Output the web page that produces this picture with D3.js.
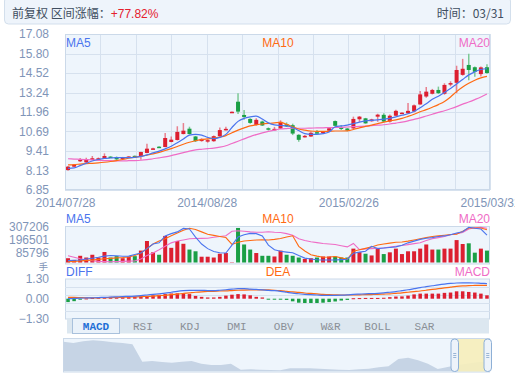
<!DOCTYPE html>
<html>
<head>
<meta charset="utf-8">
<script src="https://cdnjs.cloudflare.com/ajax/libs/d3/7.8.5/d3.min.js"></script>
<style>
body { margin: 0; background: #fff; }
svg text { font-family: "Liberation Sans", Arial, sans-serif; }
svg text.cjk { font-family: "Noto Sans CJK SC", sans-serif; }
svg text.tab { font-family: "Liberation Mono", monospace; }
</style>
</head>
<body>
<div id="chart"></div>
<script>
// daily candles
var opens  = [8.16,8.38,8.80,8.66,8.82,8.80,8.93,9.04,9.01,8.88,9.02,9.09,9.06,9.28,9.53,9.69,9.67,10.00,10.13,10.52,
              10.87,10.36,10.06,10.08,10.05,10.38,10.78,11.92,12.64,11.77,11.51,11.12,11.34,10.90,10.82,10.88,11.16,11.10,10.47,10.33,
              10.36,10.64,10.65,10.74,11.37,10.95,10.88,10.89,11.49,11.55,11.36,11.66,11.78,11.34,11.72,11.88,11.88,12.00,12.46,12.98,
              13.16,13.41,13.16,13.82,13.88,14.40,15.05,14.90,14.45,14.90];
var closes = [8.38,8.50,8.83,8.86,8.93,8.93,9.08,8.99,8.86,9.00,9.05,9.03,9.34,9.56,9.58,9.65,10.26,10.15,10.66,10.74,
              10.52,10.05,10.20,10.12,10.38,10.78,10.86,11.98,11.99,11.64,11.25,11.45,11.08,10.80,10.86,11.32,11.02,10.55,10.14,10.40,
              10.60,10.58,10.69,10.90,11.06,10.90,10.76,11.51,11.66,11.22,11.48,11.79,11.34,11.72,12.04,11.92,12.04,12.40,13.12,13.30,
              13.41,13.20,13.74,13.86,14.72,14.80,14.72,14.60,14.89,14.52];
var highs  = [8.42,8.55,8.95,8.97,9.08,8.98,9.25,9.06,9.05,9.02,9.07,9.12,9.36,9.89,9.62,9.72,10.59,10.36,11.03,11.24,
              11.00,10.40,10.24,10.18,10.42,10.95,10.99,12.00,13.20,12.10,11.55,11.55,11.40,10.95,10.99,11.42,11.28,11.20,10.50,10.45,
              10.70,10.78,10.72,10.93,11.40,11.10,10.92,11.66,11.70,11.58,11.52,11.85,11.88,11.80,12.12,11.95,12.55,12.45,13.35,13.60,
              13.48,13.63,13.85,13.98,15.00,15.45,15.78,14.95,14.95,15.10];
var lows   = [8.12,8.36,8.68,8.62,8.80,8.78,8.90,8.96,8.82,8.86,9.00,8.98,8.84,9.26,9.50,9.62,9.65,9.98,10.10,10.50,
              10.48,10.00,10.02,9.95,10.02,10.35,10.75,11.90,11.83,11.45,11.20,11.08,11.05,10.75,10.76,10.85,10.98,10.45,10.02,10.30,
              10.33,10.55,10.62,10.70,11.02,10.78,10.70,10.86,11.30,11.20,11.33,11.32,11.30,11.28,11.70,11.85,11.85,11.95,12.44,12.90,
              13.12,13.15,13.10,13.65,13.20,14.35,14.05,14.28,14.30,14.48];

var ma5  = [8.27,8.30,8.45,8.60,8.75,8.85,8.92,8.95,8.97,8.97,8.97,8.99,9.05,9.15,9.28,9.40,9.55,9.72,9.95,10.20,
            10.45,10.50,10.45,10.30,10.22,10.30,10.50,10.95,11.35,11.55,11.65,11.70,11.50,11.25,11.12,11.08,11.05,10.95,10.75,10.55,
            10.50,10.50,10.55,10.65,11.00,11.05,11.10,11.20,11.30,11.38,11.42,11.45,11.50,11.55,11.65,11.75,11.85,12.00,12.25,12.50,
            12.80,13.00,13.25,13.50,13.80,14.10,14.40,14.60,14.75,14.80];
var ma10 = [8.50,8.52,8.55,8.58,8.60,8.63,8.67,8.72,8.78,8.85,8.93,9.00,9.06,9.14,9.22,9.32,9.44,9.56,9.70,9.85,
            9.98,10.08,10.15,10.20,10.25,10.32,10.42,10.60,10.78,10.92,11.05,11.12,11.18,11.22,11.25,11.28,11.15,11.00,10.85,10.78,
            10.72,10.70,10.70,10.70,10.72,10.72,10.73,10.82,10.92,11.02,11.10,11.20,11.30,11.38,11.45,11.55,11.68,11.82,11.98,12.12,
            12.28,12.45,12.65,12.95,13.30,13.60,13.85,14.05,14.20,14.30];
var ma20 = [8.90,8.88,8.86,8.84,8.82,8.80,8.78,8.77,8.76,8.76,8.77,8.78,8.80,8.84,8.90,8.96,9.02,9.10,9.20,9.30,
            9.40,9.48,9.52,9.56,9.60,9.66,9.75,9.90,10.05,10.20,10.35,10.48,10.60,10.70,10.78,10.85,10.88,10.90,10.90,10.90,
            10.91,10.92,10.93,10.94,10.95,10.96,10.98,11.00,11.02,11.04,11.07,11.10,11.13,11.18,11.24,11.30,11.38,11.48,11.58,11.70,
            11.82,11.94,12.05,12.18,12.32,12.48,12.62,12.78,12.95,13.15];

var volumes = [37000,22000,58000,43000,67000,43000,91000,43000,55000,37000,50000,55000,103000,186000,88000,67000,230000,127000,186000,162000,
               112000,97000,50000,50000,43000,76000,82000,3000,299000,156000,112000,82000,58000,58000,52000,103000,67000,58000,43000,31000,
               37000,43000,52000,52000,52000,43000,43000,120000,90000,76000,61000,120000,73000,88000,120000,73000,97000,97000,120000,156000,
               112000,112000,120000,120000,194000,160000,166000,85000,120000,103000];
var volMa5  = [16000,19000,22000,30000,37000,45000,55000,61000,58000,54000,55000,70000,82000,120000,160000,170000,230000,250000,265000,295000,
               290000,220000,160000,120000,95000,85000,82000,150000,220000,240000,252000,250000,230000,150000,110000,97000,90000,84000,60000,38000,
               30000,24000,22000,22000,22000,25000,28000,80000,90000,97000,140000,120000,125000,130000,135000,150000,170000,185000,200000,210000,
               215000,225000,230000,240000,255000,266000,305000,296000,290000,237000];
var volMa10 = [7000,10000,14000,18000,22000,27000,32000,36000,40000,43000,48000,60000,82000,120000,160000,186000,205000,231000,255000,280000,
               296000,285000,265000,245000,235000,225000,216000,156000,175000,186000,190000,195000,197000,195000,200000,207000,220000,231000,140000,100000,
               67000,55000,46000,48000,52000,40000,28000,97000,110000,122000,135000,152000,160000,168000,175000,178000,185000,195000,205000,215000,
               225000,230000,236000,242000,245000,270000,299000,299000,299000,284000];
var volMa20 = [58000,45000,32000,22000,15000,10000,8000,7000,8000,10000,12000,13000,30000,60000,82000,110000,140000,170000,186000,195000,
               205000,208000,209000,210000,218000,225000,231000,270000,275000,270000,265000,262000,262000,266000,262000,260000,250000,235000,205000,190000,
               180000,172000,165000,160000,156000,145000,135000,165000,112000,118000,120000,123000,126000,133000,140000,147000,155000,163000,171000,190000,
               205000,215000,225000,240000,250000,260000,290000,300000,305000,296000];

var macdBar = [-0.22,-0.16,-0.03,0.02,0.05,0.07,0.10,0.12,0.10,0.10,0.10,0.12,0.15,0.18,0.22,0.26,0.30,0.34,0.35,0.35,
               0.30,0.18,0.12,0.08,0.08,0.12,0.20,0.26,0.30,0.28,0.22,0.12,0.08,-0.03,-0.04,-0.05,-0.08,-0.17,-0.26,-0.28,
               -0.28,-0.28,-0.26,-0.22,-0.18,-0.12,-0.08,0.03,0.04,0.05,0.05,0.05,0.06,0.10,0.14,0.15,0.20,0.28,0.33,0.33,
               0.33,0.33,0.38,0.40,0.48,0.48,0.44,0.40,0.33,0.22];
var diff = [0.00,0.02,0.04,0.05,0.06,0.07,0.09,0.10,0.12,0.14,0.15,0.17,0.20,0.24,0.28,0.32,0.36,0.42,0.48,0.52,
            0.54,0.54,0.54,0.53,0.53,0.55,0.58,0.62,0.65,0.65,0.62,0.60,0.58,0.54,0.52,0.48,0.42,0.36,0.32,0.28,
            0.26,0.24,0.22,0.22,0.22,0.23,0.25,0.28,0.30,0.32,0.33,0.35,0.38,0.42,0.46,0.52,0.58,0.65,0.72,0.78,
            0.84,0.90,0.95,0.99,1.02,1.03,1.03,1.02,1.00,0.98];
var dea  = [0.08,0.08,0.07,0.06,0.06,0.06,0.07,0.07,0.08,0.10,0.11,0.12,0.13,0.15,0.17,0.20,0.22,0.26,0.30,0.34,
            0.38,0.42,0.45,0.47,0.48,0.50,0.51,0.53,0.55,0.56,0.57,0.58,0.58,0.57,0.55,0.52,0.48,0.44,0.41,0.37,
            0.34,0.31,0.28,0.26,0.25,0.24,0.24,0.24,0.25,0.26,0.27,0.28,0.30,0.32,0.35,0.38,0.42,0.46,0.50,0.55,
            0.60,0.65,0.70,0.75,0.80,0.83,0.85,0.86,0.87,0.87];

// long history shown in the navigator strip
var navData = [88,84,89,92,90,86,84,80,28,30,27,25,28,30,22,18,18,22,4,5,
               4,3,2,8,8,8,7,5,4,3,5,7,11,14,36,40,32,22,6,12,18,22,26,28];

var dates = ["2014/07/28", "2014/08/28", "2015/02/26", "2015/03/31"];
var priceTicks = [17.08, 15.80, 14.52, 13.24, 11.96, 10.69, 9.41, 8.13, 6.85];
var volTicks = [307206, 196501, 85796];
var macdTicks = [1.30, 0.00, -1.30];
var tabs = ["MACD", "RSI", "KDJ", "DMI", "OBV", "W&R", "BOLL", "SAR"];

var width = 515, height = 378;
var left = 65, right = 490;
var red = "#dc1f30", green = "#1a9f45";
var redWick = "#e8808e", greenWick = "#7cc995";
var blue = "#4a74ee", orange = "#ff6a12", pink = "#ef6cc6";
var axisColor = "#7f95b8", gridColor = "#d6e1ee", panelBg = "#eef5fc", frameColor = "#cbd9e9";

var svg = d3.select("#chart").append("svg")
  .attr("width", width)
  .attr("height", height);

// header bar
svg.append("rect")
  .attr("x", 4.5).attr("y", -3).attr("width", 506).attr("height", 27).attr("rx", 4)
  .attr("fill", "#eef4fb").attr("stroke", "#d3dfec");
var head = svg.append("text").attr("class", "cjk")
  .attr("x", 12).attr("y", 18).attr("font-size", 12).attr("fill", "#3f4e60");
head.append("tspan").text("前复权 区间涨幅：");
head.append("tspan").attr("fill", "#e5202e").style("font-family", "Liberation Sans").text("+77.82%");
svg.append("text").attr("class", "cjk")
  .attr("x", 504).attr("y", 18).attr("text-anchor", "end").attr("font-size", 12).attr("fill", "#3f4e60")
  .text("时间：03/31");

var x = d3.scaleBand().domain(d3.range(opens.length)).range([left, right]);
function cx(i) { return x(i) + x.bandwidth() / 2; }

// ---------- main price panel ----------
var y = d3.scaleLinear().domain([6.85, 17.08]).range([190, 34]);
var gridX = d3.scaleLinear().domain([0, 12]).range([left, right]);

svg.append("rect")
  .attr("x", left).attr("y", 34).attr("width", right - left).attr("height", 156)
  .attr("fill", panelBg);

svg.append("g").selectAll("line").data(priceTicks).enter().append("line")
  .attr("x1", left).attr("x2", right)
  .attr("y1", function(d) { return Math.round(y(d)) + 0.5; })
  .attr("y2", function(d) { return Math.round(y(d)) + 0.5; })
  .attr("stroke", gridColor);
svg.append("g").selectAll("line").data(d3.range(13)).enter().append("line")
  .attr("x1", function(d) { return Math.round(gridX(d)) + 0.5; })
  .attr("x2", function(d) { return Math.round(gridX(d)) + 0.5; })
  .attr("y1", 34).attr("y2", 190)
  .attr("stroke", gridColor);
svg.append("rect")
  .attr("x", left + 0.5).attr("y", 34.5).attr("width", right - left - 1).attr("height", 155)
  .attr("fill", "none").attr("stroke", frameColor);

var yAxis = svg.append("g").attr("transform", "translate(" + left + ",0)")
  .call(d3.axisLeft(y).tickValues(priceTicks).tickFormat(d3.format(".2f")).tickSize(0).tickPadding(16));
yAxis.select(".domain").remove();
yAxis.selectAll("text").attr("font-size", 12).attr("fill", axisColor);

var dateScale = d3.scalePoint().domain(dates).range([left, right]);
var xAxis = svg.append("g").attr("transform", "translate(0,190)")
  .call(d3.axisBottom(dateScale).tickSize(0).tickPadding(8));
xAxis.select(".domain").remove();
xAxis.selectAll("text").attr("font-size", 12).attr("fill", axisColor);

// candles
var candles = svg.append("g").selectAll("g").data(opens).enter().append("g");
candles.append("line")
  .attr("x1", function(d, i) { return cx(i); })
  .attr("x2", function(d, i) { return cx(i); })
  .attr("y1", function(d, i) { return y(highs[i]); })
  .attr("y2", function(d, i) { return y(lows[i]); })
  .attr("stroke", function(d, i) { return closes[i] >= opens[i] ? redWick : greenWick; })
  .attr("stroke-width", 1.5);
candles.append("rect")
  .attr("x", function(d, i) { return cx(i) - 2; })
  .attr("width", 4)
  .attr("y", function(d, i) { return y(Math.max(opens[i], closes[i])); })
  .attr("height", function(d, i) { return Math.max(1.5, Math.abs(y(opens[i]) - y(closes[i]))); })
  .attr("fill", function(d, i) { return closes[i] >= opens[i] ? red : green; });

var priceLine = d3.line()
  .curve(d3.curveMonotoneX)
  .x(function(d, i) { return cx(i); })
  .y(function(d) { return y(d); });
[[ma20, pink], [ma10, orange], [ma5, blue]].forEach(function(s) {
  svg.append("path").attr("d", priceLine(s[0]))
    .attr("fill", "none").attr("stroke", s[1]).attr("stroke-width", 1.2);
});

function legend(yPos, names) {
  var cols = [blue, orange, pink];
  var anchors = ["start", "middle", "end"];
  var xs = [left + 1, 278, right];
  names.forEach(function(n, k) {
    svg.append("text").attr("x", xs[k]).attr("y", yPos)
      .attr("text-anchor", anchors[k]).attr("font-size", 12).attr("fill", cols[k]).text(n);
  });
}
legend(47, ["MA5", "MA10", "MA20"]);

// ---------- volume panel ----------
var vy = d3.scaleLinear().domain([0, 315860]).range([262.5, 226]);
svg.append("rect")
  .attr("x", left + 0.5).attr("y", 226.5).attr("width", right - left - 1).attr("height", 37.5)
  .attr("fill", panelBg).attr("stroke", frameColor);
svg.append("g").selectAll("rect").data(volumes).enter().append("rect")
  .attr("x", function(d, i) { return cx(i) - 2; })
  .attr("width", 4)
  .attr("y", function(d) { return vy(d); })
  .attr("height", function(d) { return vy(0) - vy(d); })
  .attr("fill", function(d, i) { return closes[i] >= opens[i] ? red : green; });
var volLine = d3.line()
  .x(function(d, i) { return cx(i); })
  .y(function(d) { return vy(d); });
[[volMa20, pink], [volMa10, orange], [volMa5, blue]].forEach(function(s) {
  svg.append("path").attr("d", volLine(s[0]))
    .attr("fill", "none").attr("stroke", s[1]).attr("stroke-width", 1.1);
});
var vAxis = svg.append("g").attr("transform", "translate(" + left + ",0)")
  .call(d3.axisLeft(vy).tickValues(volTicks).tickFormat(d3.format("d")).tickSize(0).tickPadding(16));
vAxis.select(".domain").remove();
vAxis.selectAll("text").attr("font-size", 12).attr("fill", axisColor);
svg.append("text").attr("class", "cjk").attr("x", 48).attr("y", 269.5).attr("text-anchor", "end")
  .attr("font-size", 9.5).attr("fill", axisColor).text("手");
legend(223, ["MA5", "MA10", "MA20"]);

// ---------- MACD panel ----------
var my = d3.scaleLinear().domain([-1.3, 1.3]).range([318.7, 278.7]);
svg.append("rect")
  .attr("x", left + 0.5).attr("y", 279).attr("width", right - left - 1).attr("height", 40)
  .attr("fill", panelBg).attr("stroke", frameColor);
svg.append("g").selectAll("line").data(d3.range(1, 5)).enter().append("line")
  .attr("x1", left).attr("x2", right)
  .attr("y1", function(d) { return Math.round(my(1.3 - d * 0.52)) + 0.5; })
  .attr("y2", function(d) { return Math.round(my(1.3 - d * 0.52)) + 0.5; })
  .attr("stroke", gridColor);
svg.append("g").selectAll("rect").data(macdBar).enter().append("rect")
  .attr("x", function(d, i) { return cx(i) - 1.75; })
  .attr("width", 3.5)
  .attr("y", function(d) { return my(Math.max(0, d)); })
  .attr("height", function(d) { return Math.max(1, Math.abs(my(d) - my(0))); })
  .attr("fill", function(d) { return d >= 0 ? red : green; });
var macdLine = d3.line()
  .curve(d3.curveMonotoneX)
  .x(function(d, i) { return cx(i); })
  .y(function(d) { return my(d); });
svg.append("path").attr("d", macdLine(dea)).attr("fill", "none").attr("stroke", orange).attr("stroke-width", 1.2);
svg.append("path").attr("d", macdLine(diff)).attr("fill", "none").attr("stroke", blue).attr("stroke-width", 1.2);
var mAxis = svg.append("g").attr("transform", "translate(" + left + ",0)")
  .call(d3.axisLeft(my).tickValues(macdTicks).tickFormat(d3.format(".2f")).tickSize(0).tickPadding(16));
mAxis.select(".domain").remove();
mAxis.selectAll("text").attr("font-size", 12).attr("fill", axisColor);
legend(276, ["DIFF", "DEA", "MACD"]);

// indicator tabs
svg.append("rect").attr("x", 67).attr("y", 318.5).attr("width", 422).attr("height", 15)
  .attr("fill", "#dce7f0");
var tabX = d3.scalePoint().domain(tabs).range([96, 424.5]);
svg.append("rect").attr("x", 72.5).attr("y", 318.5).attr("width", 47).attr("height", 15)
  .attr("fill", "#eaf2fa").attr("stroke", "#a9c1dc");
svg.append("g").selectAll("text").data(tabs).enter().append("text")
  .attr("class", "tab")
  .attr("x", function(d) { return tabX(d); })
  .attr("y", 330)
  .attr("text-anchor", "middle")
  .attr("font-size", 11)
  .attr("font-weight", function(d, i) { return i === 0 ? "bold" : "normal"; })
  .attr("fill", function(d, i) { return i === 0 ? "#1f6fd6" : "#8a8f96"; })
  .text(function(d) { return d; });

// ---------- navigator ----------
var nx = d3.scaleLinear().domain([0, navData.length - 1]).range([63.5, 487]);
var ny = d3.scaleLinear().domain([0, 93]).range([371, 340]);
svg.append("rect").attr("x", 63.5).attr("y", 338.5).attr("width", 426).attr("height", 33.5)
  .attr("fill", panelBg).attr("stroke", frameColor);
svg.append("path")
  .attr("d", d3.area().x(function(d, i) { return nx(i); }).y0(ny(0)).y1(function(d) { return ny(d); })(navData))
  .attr("fill", "#c6d4e5");
svg.append("rect").attr("x", 458).attr("y", 339).attr("width", 27).attr("height", 32.5)
  .attr("fill", "#f6eeba").attr("opacity", 0.9);
[451, 484].forEach(function(hx) {
  svg.append("rect").attr("x", hx).attr("y", 339).attr("width", 7.5).attr("height", 32.5).attr("rx", 3.5)
    .attr("fill", "#edf3fa").attr("stroke", "#8eb0d6");
  [-2, 0, 2].forEach(function(o) {
    svg.append("line").attr("x1", hx + 2.2).attr("x2", hx + 5.3)
      .attr("y1", 355.5 + o).attr("y2", 355.5 + o).attr("stroke", "#9ab6d6");
  });
});
</script>
</body>
</html>
